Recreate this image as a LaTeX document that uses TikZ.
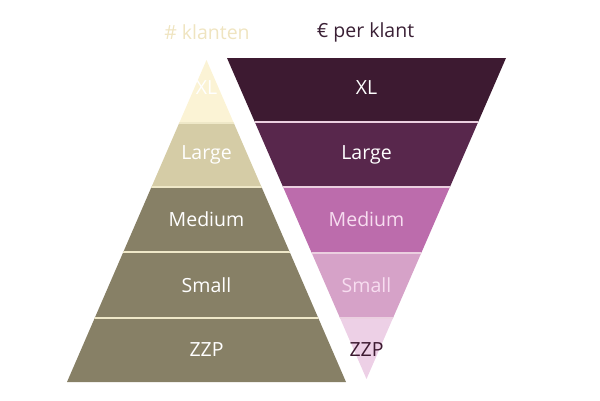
\documentclass[tikz,border=0pt]{standalone}
\usepackage{fontspec}
\setmainfont{Open Sans}
\definecolor{lxl}{HTML}{FBF3D5}
\definecolor{llarge}{HTML}{D5CCA6}
\definecolor{lolive}{HTML}{878066}
\definecolor{ldiv}{HTML}{EFE8C8}
\definecolor{rxl}{HTML}{3D1A31}
\definecolor{rlarge}{HTML}{58274C}
\definecolor{rmed}{HTML}{BC6CAC}
\definecolor{rsmall}{HTML}{D6A2C8}
\definecolor{rzzp}{HTML}{EDD0E6}
\definecolor{rdiv}{HTML}{EBCFE0}
\definecolor{headl}{HTML}{EFE4C0}
\definecolor{headr}{HTML}{3A2035}
\definecolor{pinktxt}{HTML}{F7DDF0}
\begin{document}
\begin{tikzpicture}[x=1pt,y=-1pt,
  lbl/.style={font=\fontsize{19.5}{22}\selectfont,text=white,inner sep=0pt},
  head/.style={font=\fontsize{19.5}{22}\selectfont,inner sep=0pt}]
\useasboundingbox (0,0) rectangle (600,400);
% left pyramid
\begin{scope}
\clip (206.5,60) -- (346,382) -- (67,382) -- cycle;
\fill[lxl] (60,55) rectangle (360,123);
\fill[llarge] (60,123) rectangle (360,187);
\fill[lolive] (60,187) rectangle (360,390);
\draw[ldiv,line width=2pt] (60,123) -- (360,123);
\draw[ldiv,line width=2pt] (60,187) -- (360,187);
\draw[ldiv,line width=2pt] (60,252) -- (360,252);
\draw[ldiv,line width=2pt] (60,318) -- (360,318);
\end{scope}
% right inverted pyramid
\begin{scope}
\clip (227,58) -- (506,58) -- (366.5,379) -- cycle;
\fill[rxl] (220,50) rectangle (520,122);
\fill[rlarge] (220,122) rectangle (520,187);
\fill[rmed] (220,187) rectangle (520,253);
\fill[rsmall] (220,253) rectangle (520,318);
\fill[rzzp] (220,318) rectangle (520,390);
\draw[rdiv,line width=2pt] (220,122) -- (520,122);
\draw[rdiv,line width=2pt] (220,187) -- (520,187);
\draw[rdiv,line width=1.5pt] (220,253) -- (520,253);
\draw[rdiv,line width=1.5pt] (220,318) -- (520,318);
\end{scope}
% headings
\node[head,text=headl] (hl) at (207,32) {\# klanten};
\node[head,text=headr] (hr) at (365.5,32) {€ per klant};
% left labels
\node[lbl] (lxl) at (206.5,88) {XL};
\node[lbl] (llarge) at (206.5,155) {Large};
\node[lbl] (lmed) at (206.5,219) {Medium};
\node[lbl] (lsmall) at (206.5,285) {Small};
\node[lbl] (lzzp) at (206.5,350) {ZZP};
% right labels
\node[lbl] (rxl) at (366.5,88) {XL};
\node[lbl] (rlarge) at (366.5,155) {Large};
\node[lbl,text=pinktxt] (rmed) at (366.5,219) {Medium};
\node[lbl,text=pinktxt] (rsmall) at (366.5,285) {Small};
\node[lbl,text=rxl] (rzzp) at (366.5,350) {ZZP};
\end{tikzpicture}
\end{document}
